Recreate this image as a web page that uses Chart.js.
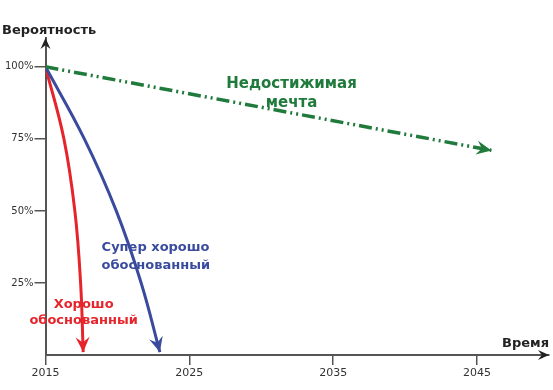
<!DOCTYPE html>
<html>
<head>
<meta charset="utf-8">
<script src="https://cdn.jsdelivr.net/npm/chart.js@4"></script>
<style>
  html, body { margin: 0; padding: 0; background: #fff; }
  #wrap { width: 553px; height: 390px; }
</style>
</head>
<body>
<div id="wrap"><canvas id="chart" width="553" height="390"></canvas></div>
<script>
// data
var dreamYears = [2015, 2046];
var dreamProb = [100, 71];
var superYears = [2015, 2017.7, 2019.92, 2021.65, 2022.95];
var superProb = [100, 75, 50, 25, 1];
var goodYears = [2015, 2016.28, 2017.04, 2017.44, 2017.62];
var goodProb = [100, 75, 50, 25, 1];
var xTicks = [2015, 2025, 2035, 2045];
var yTicks = [25, 50, 75, 100];

var GREEN = "#1f7a3b";
var BLUE = "#3a4b9e";
var RED = "#e5252b";
var AXIS = "#555";

function toPoints(xs, ys) {
    return xs.map(function (x, i) { return { x: x, y: ys[i] }; });
}

// text notes, anchored in data units
var notes = [
    { lines: ["Недостижимая", "мечта"], x: 2032.1, y: [92.6, 86.1], color: GREEN, align: "center", size: 15 },
    { lines: ["Супер хорошо", "обоснованный"], x: 2018.9, y: [36.1, 30], color: BLUE, align: "left", size: 13 },
    { lines: ["Хорошо", "обоснованный"], x: 2017.65, y: [16.4, 10.9], color: RED, align: "center", size: 13 }
];

function arrowHead(ctx, fx, fy, tx, ty, color, len, half) {
    var a = Math.atan2(ty - fy, tx - fx);
    ctx.save();
    ctx.translate(tx, ty);
    ctx.rotate(a);
    ctx.fillStyle = color;
    ctx.beginPath();
    ctx.moveTo(0, 0);
    ctx.lineTo(-len, -half);
    ctx.lineTo(-len * 0.65, 0);
    ctx.lineTo(-len, half);
    ctx.closePath();
    ctx.fill();
    ctx.restore();
}

var extras = {
    id: "extras",
    afterDatasetsDraw: function (chart) {
        var ctx = chart.ctx;
        var area = chart.chartArea;
        var xs = chart.scales.x, ys = chart.scales.y;

        // arrow heads on the series
        chart.data.datasets.forEach(function (ds, i) {
            var pts = chart.getDatasetMeta(i).data;
            var end = pts[pts.length - 1];
            var prev = pts[pts.length - 2];
            var fx = end.cp1x !== undefined && end.cp1x !== end.x ? end.cp1x : prev.x;
            var fy = end.cp1y !== undefined && end.cp1y !== end.y ? end.cp1y : prev.y;
            arrowHead(ctx, fx, fy, end.x, end.y, ds.borderColor, 15, 7);
        });

        // axis arrows
        arrowHead(ctx, area.left, area.bottom, area.left, area.top, "#222", 11, 5);
        arrowHead(ctx, area.left, area.bottom, area.right, area.bottom, "#222", 11, 5);

        ctx.save();
        ctx.fillStyle = "#222";
        ctx.font = "bold 13px 'DejaVu Sans'";
        ctx.textBaseline = "alphabetic";
        ctx.textAlign = "left";
        ctx.fillText("Вероятность", 2, 34);
        ctx.textAlign = "right";
        ctx.fillText("Время", area.right, area.bottom - 8);

        notes.forEach(function (n) {
            ctx.font = "bold " + n.size + "px 'DejaVu Sans'";
            ctx.fillStyle = n.color;
            ctx.textAlign = n.align;
            n.lines.forEach(function (t, k) {
                ctx.fillText(t, xs.getPixelForValue(n.x), ys.getPixelForValue(n.y[k]));
            });
        });
        ctx.restore();
    }
};

var ctx = document.getElementById("chart");

var chart = new Chart(ctx, {
    type: "line",
    data: {
        datasets: [
            {
                label: "Недостижимая мечта",
                data: toPoints(dreamYears, dreamProb),
                borderColor: GREEN,
                borderWidth: 3.5,
                borderDash: [13, 4, 2, 4, 2, 4],
                pointRadius: 0,
                tension: 0
            },
            {
                label: "Супер хорошо обоснованный",
                data: toPoints(superYears, superProb),
                borderColor: BLUE,
                borderWidth: 3,
                pointRadius: 0,
                tension: 0.4
            },
            {
                label: "Хорошо обоснованный",
                data: toPoints(goodYears, goodProb),
                borderColor: RED,
                borderWidth: 3,
                pointRadius: 0,
                tension: 0.4
            }
        ]
    },
    options: {
        responsive: false,
        animation: false,
        layout: { padding: { top: 38, right: 4, left: 0, bottom: 0 } },
        plugins: {
            legend: { display: false },
            tooltip: { enabled: false }
        },
        scales: {
            x: {
                type: "linear",
                min: 2015,
                max: 2050,
                afterBuildTicks: function (s) { s.ticks = xTicks.map(function (v) { return { value: v }; }); },
                afterFit: function (s) { s.height = 35; },
                grid: { display: true, drawOnChartArea: false, drawTicks: true, tickLength: 10, color: AXIS, lineWidth: 1.5 },
                border: { display: true, color: AXIS, width: 2 },
                ticks: {
                    color: "#333",
                    font: { family: "DejaVu Sans", size: 11 },
                    padding: 2,
                    maxRotation: 0,
                    autoSkip: false,
                    callback: function (v) { return String(v); }
                }
            },
            y: {
                min: 0,
                max: 110,
                afterBuildTicks: function (s) { s.ticks = yTicks.map(function (v) { return { value: v }; }); },
                afterFit: function (s) { s.width = 45.5; },
                grid: { display: true, drawOnChartArea: false, drawTicks: true, tickLength: 11, color: AXIS, lineWidth: 1.5 },
                border: { display: true, color: AXIS, width: 2 },
                ticks: {
                    color: "#333",
                    font: { family: "DejaVu Sans", size: 10 },
                    padding: 1,
                    autoSkip: false,
                    callback: function (v) { return v + "%"; }
                }
            }
        }
    },
    plugins: [extras]
});
</script>
</body>
</html>
